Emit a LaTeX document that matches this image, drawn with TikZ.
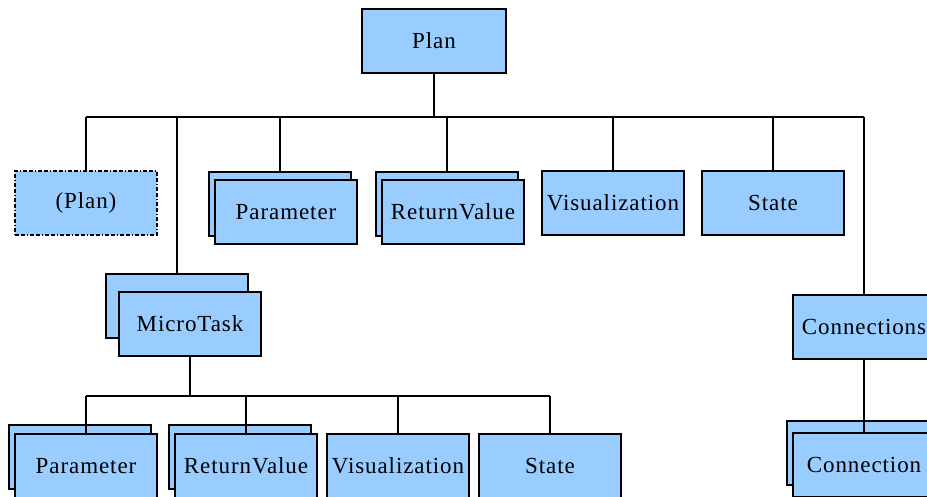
\documentclass[tikz,border=0pt]{standalone}
\usepackage{fontspec}
\newfontfamily\boxfont{Liberation Serif}[LetterSpace=4]
\begin{document}
\begin{tikzpicture}[x=1pt,y=-1pt,
  box/.style={draw=black, line width=1.3pt, fill=boxblue, rectangle,
    minimum width=142pt, minimum height=64pt, inner sep=0pt,
    font=\boxfont\fontsize{23}{28}\selectfont},
  ghostbox/.style={box, draw=black, dash pattern=on 4pt off 2pt on 4pt off 2pt on 1pt off 2pt},
  trunk/.style={line width=2pt},
  branch/.style={line width=1.1pt}]
\definecolor{boxblue}{RGB}{153,204,255}
\useasboundingbox (0,0) rectangle (927,497);
\clip (0,0) rectangle (927,497);

% root
\node[box, minimum width=144pt] (plan) at (434,41) {Plan};

% first level
\node[ghostbox] (subplan) at (86,203) {(Plan)};
\node[box] (paramB) at (280,204) {};
\node[box] (param)  at (286,212) {Parameter};
\node[box] (retB) at (447,204) {};
\node[box] (ret)  at (453,212) {ReturnValue};
\node[box] (vis) at (613,203) {Visualization};
\node[box] (state) at (773,203) {State};
\node[box] (microB) at (177,306) {};
\node[box] (micro)  at (190,324) {MicroTask};
\node[box] (conns) at (864,327) {Connections\hspace{8pt}};

% second level under MicroTask
\node[box] (mparamB) at (80,457) {};
\node[box] (mparam)  at (86,466) {Parameter};
\node[box] (mretB) at (240,457) {};
\node[box] (mret)  at (246,466) {ReturnValue};
\node[box] (mvis) at (398,466) {Visualization};
\node[box] (mstate) at (550,466) {State};

% second level under Connections
\node[box] (connB) at (858,453) {};
\node[box] (conn)  at (864,465) {Connection};

% bus lines
\coordinate (busL) at (86,117);
\coordinate (busR) at (864,117);
\coordinate (mbusL) at (86,396);
\coordinate (mbusR) at (550,396);

\draw[trunk] (plan.south) -- (plan.south |- busL);
\draw[trunk] (busL) -- (busR);
\draw[branch] (busL) -- (subplan.north);
\draw[branch] (microB.north |- busL) -- (microB.north);
\draw[branch] (paramB.north |- busL) -- (paramB.north);
\draw[branch] (retB.north |- busL) -- (retB.north);
\draw[branch] (vis.north |- busL) -- (vis.north);
\draw[branch] (state.north |- busL) -- (state.north);
\draw[branch] (busR) -- (conns.north);

\draw[trunk] (micro.south) -- (micro.south |- mbusL);
\draw[branch] (mbusL) -- (mbusR);
\draw[branch] (mbusL) -- (mparam.north);
\draw[branch] (mret.north |- mbusL) -- (mret.north);
\draw[branch] (mvis.north |- mbusL) -- (mvis.north);
\draw[branch] (mbusR) -- (mstate.north);

\draw[branch] (conns.south) -- (conn.north);
\end{tikzpicture}
\end{document}
